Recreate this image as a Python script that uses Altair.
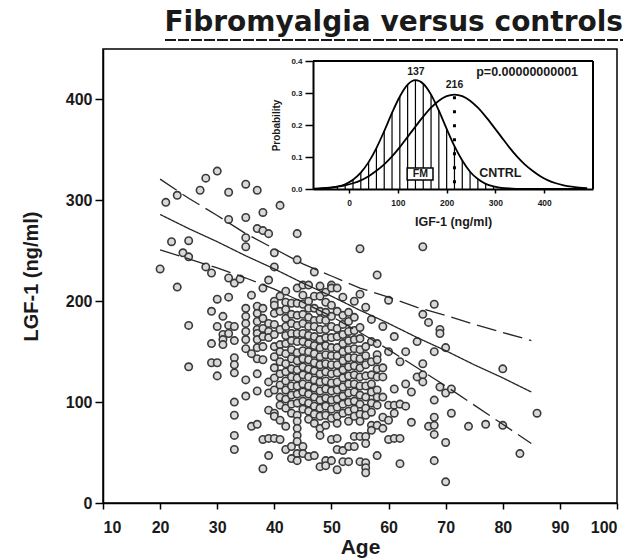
import altair as alt
import pandas as pd

TITLE = "Fibromyalgia versus controls"

# ---- main scatter: age columns and the LGF-1 values read in each column ----
col_age = [20, 21, 22, 23, 24, 25, 27, 28, 29, 30, 31, 32, 33, 34, 35, 36, 37, 38, 39, 40,
           41, 42, 43, 44, 45, 46, 47, 48, 49, 50, 51, 52, 53, 54, 55, 56, 57, 58, 59, 60,
           61, 62, 63, 64, 65, 66, 67, 68, 69, 70, 71, 74, 77, 80, 83, 86]
col_lgf = [
    [232],
    [298],
    [259],
    [305, 214],
    [248],
    [260, 244, 176, 135],
    [310],
    [322, 234],
    [228, 190, 158, 139],
    [329, 202, 175, 139, 126],
    [185, 167, 162, 157],
    [308, 281, 223, 204, 176, 168],
    [218, 175, 161, 144, 137, 129, 100, 87, 67, 53],
    [222],
    [316, 283, 263, 254, 193, 185, 178, 170, 162, 153, 122, 106],
    [206, 148, 76],
    [310, 272, 195, 188, 180, 172, 168, 162, 154, 143, 128, 111, 78],
    [288, 270, 213, 193, 183, 173, 165, 155, 142, 63, 34],
    [267, 221, 178, 170, 164, 120, 109, 92, 64, 47],
    [248, 234, 200, 196, 188, 177, 167, 155, 145, 134, 124, 112, 89, 86, 64],
    [295, 205, 190, 172, 157, 150, 140, 128, 117, 105, 97, 82, 63],
    [210, 199, 192, 183, 175, 166, 158, 148, 138, 130, 121, 112, 103, 94, 76, 53],
    [198, 187, 178, 168, 161, 152, 143, 133, 125, 116, 107, 98, 89, 56, 44],
    [267, 241, 213, 198, 186, 176, 168, 160, 149, 141, 132, 124, 116, 108, 99, 87, 81, 74, 67, 61, 49, 42],
    [216, 206, 197, 187, 178, 168, 160, 151, 143, 135, 127, 118, 110, 101, 93, 56, 49],
    [216, 200, 193, 184, 175, 166, 158, 150, 142, 133, 125, 116, 108, 99, 91, 83, 46],
    [229, 205, 193, 181, 175, 165, 156, 148, 139, 131, 122, 114, 105, 96, 88, 79, 47],
    [215, 205, 190, 182, 172, 162, 154, 145, 137, 128, 120, 111, 102, 94, 86, 74, 67, 36],
    [209, 199, 189, 181, 172, 164, 156, 147, 138, 130, 121, 113, 104, 96, 87, 77, 42, 37],
    [216, 213, 196, 185, 175, 164, 154, 146, 137, 128, 119, 111, 102, 93, 84, 63, 42],
    [213, 190, 173, 165, 154, 146, 137, 129, 120, 112, 103, 95, 86, 79, 64, 53, 33],
    [204, 186, 177, 167, 158, 150, 141, 132, 124, 115, 106, 98, 89, 52, 41],
    [189, 180, 170, 161, 152, 144, 135, 126, 118, 109, 100, 91, 81, 56, 41],
    [200, 184, 171, 162, 153, 144, 136, 127, 118, 110, 101, 93, 86, 66, 56],
    [252, 207, 174, 163, 152, 143, 134, 125, 116, 107, 98, 88, 81, 66, 41],
    [194, 155, 146, 137, 126, 116, 105, 94, 87, 66, 59, 40, 35, 30],
    [182, 160, 140, 127, 118, 110, 99, 90, 77, 72],
    [226, 158, 147, 142, 133, 125, 112, 105, 97, 77, 47],
    [175, 134, 125, 105, 85, 74],
    [201, 150, 97, 82, 63],
    [165, 113, 97, 89, 64],
    [140, 98, 64, 39],
    [150, 118, 96],
    [110, 80],
    [160, 125],
    [254, 187, 138, 127, 120],
    [179, 76],
    [197, 150, 102, 85, 77, 68, 42],
    [172, 168, 115],
    [154, 109, 60, 21],
    [113, 89],
    [76],
    [78],
    [133, 77],
    [49],
    [89],
]

# ---- regression line and its two dashed limits ----
line_age = [20, 25, 30, 35, 40, 45, 50, 55, 60, 65, 70, 75, 80, 85]
fit_mid = [286, 272, 259, 245, 232, 218, 205, 191, 178, 164, 151, 137, 124, 110]
fit_hi = [321, 302, 285, 267, 252, 237, 225, 213, 204, 194, 186, 177, 169, 161]
fit_lo = [251, 242, 233, 223, 212, 199, 185, 169, 152, 134, 116, 97, 78, 59]

# ---- inset: IGF-1 distributions ----
igf_x = [-72, -56, -40, -24, -8, 8, 24, 40, 56, 72, 88, 104, 120, 136, 152, 168, 184, 200,
         216, 232, 248, 264, 280, 296, 312, 328, 344, 360, 376, 392, 408, 424, 440, 456, 472, 488]
fm_prob = [0.0005, 0.0013, 0.0032, 0.0072, 0.015, 0.029, 0.051, 0.084, 0.128, 0.181, 0.238,
           0.289, 0.326, 0.340, 0.329, 0.295, 0.245, 0.188, 0.134, 0.089, 0.054, 0.031, 0.016,
           0.008, 0.0036, 0.0015, 0.0006, 0.0002, 0.0001, 0, 0, 0, 0, 0, 0, 0]
cntrl_prob = [0.0014, 0.0025, 0.0043, 0.0072, 0.0116, 0.018, 0.027, 0.040, 0.057, 0.077, 0.102,
              0.131, 0.163, 0.195, 0.226, 0.254, 0.276, 0.290, 0.295, 0.290, 0.276, 0.254, 0.226,
              0.195, 0.163, 0.131, 0.102, 0.077, 0.057, 0.040, 0.027, 0.018, 0.0116, 0.0072,
              0.0043, 0.0025]

peak_x = [137, 216]
peak_y = [0.366, 0.325]
peak_txt = ["137", "216"]
cntrl_mean = [216]
cntrl_dot_top = [0.29]
note_x = [365, 310]
note_y = [0.366, 0.05]
note_txt = ["p=0.00000000001", "CNTRL"]
fm_box_x = [119, 172]
fm_box_y = [0.028, 0.066]
fm_label_x = [146]
fm_label_y = [0.047]
inset_x_domain = [-74, 500]
inset_y_domain = [0, 0.4]

assert len(col_age) == len(col_lgf)
scatter_df = pd.DataFrame([{"age": a, "lgf": v} for a, vs in zip(col_age, col_lgf) for v in vs])
n = len(line_age)
band_df = pd.DataFrame({
    "age": line_age * 3,
    "lgf": fit_mid + fit_hi + fit_lo,
    "band": ["fit"] * n + ["upper"] * n + ["lower"] * n,
})
m = len(igf_x)
curve_df = pd.DataFrame({"iv": igf_x * 2, "prob": fm_prob + cntrl_prob,
                         "group": ["FM"] * m + ["CNTRL"] * m})
hatch_df = pd.DataFrame({"iv": igf_x, "prob": fm_prob, "base": [0] * m})
dot_df = pd.DataFrame({"iv": cntrl_mean, "prob": cntrl_dot_top, "base": [0]})
peak_df = pd.DataFrame({"iv": peak_x, "prob": peak_y, "txt": peak_txt})
note_df = pd.DataFrame({"iv": note_x, "prob": note_y, "txt": note_txt})
box_df = pd.DataFrame({"x1": [fm_box_x[0]], "x2": [fm_box_x[1]],
                       "y1": [fm_box_y[0]], "y2": [fm_box_y[1]]})
fm_df = pd.DataFrame({"iv": fm_label_x, "prob": fm_label_y, "txt": ["FM"]})
frame_df = pd.DataFrame({"x1": [inset_x_domain[0], inset_x_domain[1]],
                         "x2": [inset_x_domain[1], inset_x_domain[1]],
                         "y1": [inset_y_domain[1], inset_y_domain[0]],
                         "y2": [inset_y_domain[1], inset_y_domain[1]]})
one = alt.Data(values=[{}])

W, H = 514, 454
FONT = "Liberation Sans"
INK = "#1a1a1a"

# ---- main panel scales/axes ----
mx_scale = alt.Scale(domain=[10, 100], nice=False, zero=False)
my_scale = alt.Scale(domain=[0, 450], nice=False, zero=False)
mx_axis = alt.Axis(values=[10, 20, 30, 40, 50, 60, 70, 80, 90, 100], title="Age",
                   labelFont=FONT, labelFontSize=16, labelFontWeight="bold", labelPadding=10,
                   tickSize=6, titleFont=FONT, titleFontSize=21, titleFontWeight="bold",
                   titlePadding=1, grid=False, domainColor="black", tickColor="black",
                   labelColor=INK, titleColor=INK, domainWidth=1.5, tickWidth=1.5)
my_axis = alt.Axis(values=[0, 100, 200, 300, 400], title="LGF-1 (ng/ml)",
                   labelFont=FONT, labelFontSize=16, labelFontWeight="bold", labelPadding=3,
                   tickSize=8, titleFont=FONT, titleFontSize=20, titleFontWeight="bold",
                   titlePadding=24, grid=False, domainColor="black", tickColor="black",
                   labelColor=INK, titleColor=INK, domainWidth=1.5, tickWidth=1.5)

# ---- inset scales/axes ----
ix_scale = alt.Scale(domain=inset_x_domain, range=[210, 490], nice=False, zero=False)
iy_scale = alt.Scale(domain=inset_y_domain, range=[140, 12], nice=False, zero=False)
ix_axis = alt.Axis(orient="bottom", offset=-314, values=[0, 100, 200, 300, 400],
                   labelFont=FONT, labelFontSize=8.5, labelFontWeight="bold", labelPadding=5,
                   tickSize=4, title="IGF-1 (ng/ml)", titleFont=FONT, titleFontSize=12.5,
                   titleFontWeight="bold", titlePadding=9, grid=False, domainColor="black",
                   tickColor="black", labelColor=INK, titleColor=INK, domainWidth=2,
                   tickWidth=1.5)
iy_axis = alt.Axis(orient="left", offset=-210, values=[0, 0.1, 0.2, 0.3, 0.4], format=".1f",
                   labelFont=FONT, labelFontSize=8, labelFontWeight="bold", labelPadding=3,
                   tickSize=8, title="Probability", titleFont=FONT, titleFontSize=10,
                   titleFontWeight="bold", titlePadding=9, grid=False, domainColor="black",
                   tickColor="black", labelColor=INK, titleColor=INK, domainWidth=2,
                   tickWidth=1.5)


def mx(field, axis=None):
    return alt.X(field, type="quantitative", scale=mx_scale, axis=axis)


def my(field, axis=None):
    return alt.Y(field, type="quantitative", scale=my_scale, axis=axis)


def ix(field, axis=None):
    return alt.X(field, type="quantitative", scale=ix_scale, axis=axis)


def iy(field, axis=None):
    return alt.Y(field, type="quantitative", scale=iy_scale, axis=axis)


points = alt.Chart(scatter_df).mark_point(
    shape="circle", filled=True, fill="#d9d9d9", stroke="#3a3a3a", strokeWidth=1.6,
    size=55, opacity=1, fillOpacity=1
).encode(x=mx("age", mx_axis), y=my("lgf", my_axis))

bands = alt.Chart(band_df).mark_line(color="#262626", strokeWidth=1.3).encode(
    x=mx("age"), y=my("lgf"),
    detail="band:N",
    strokeDash=alt.StrokeDash("band:N", legend=None,
                              scale=alt.Scale(domain=["fit", "upper", "lower"],
                                              range=[[1, 0], [20, 7], [20, 7]])),
)

underline = alt.Chart(one).mark_rule(color=INK, strokeWidth=2, strokeDash=[11, 2]).encode(
    x=alt.value(62), x2=alt.value(520), y=alt.value(-9)
)

hatch = alt.Chart(hatch_df).mark_rule(color="black", strokeWidth=1.2).encode(
    x=ix("iv"), y=iy("prob"), y2="base:Q")
dots = alt.Chart(dot_df).mark_rule(color="black", strokeWidth=3, strokeDash=[3, 11]).encode(
    x=ix("iv"), y=iy("prob"), y2="base:Q")
curves = alt.Chart(curve_df).mark_line(color="black", strokeWidth=1.8,
                                       interpolate="monotone").encode(
    x=ix("iv", ix_axis), y=iy("prob", iy_axis), detail="group:N")
box = alt.Chart(box_df).mark_rect(fill="white", stroke="black", strokeWidth=1.5).encode(
    x=ix("x1"), x2="x2:Q", y=iy("y1"), y2="y2:Q")
fm_text = alt.Chart(fm_df).mark_text(font=FONT, fontSize=10.5, fontWeight="bold",
                                     color=INK, baseline="middle").encode(
    x=ix("iv"), y=iy("prob"), text="txt:N")
peaks = alt.Chart(peak_df).mark_text(font=FONT, fontSize=10.5, fontWeight="bold",
                                     color=INK, baseline="middle").encode(
    x=ix("iv"), y=iy("prob"), text="txt:N")
notes = alt.Chart(note_df).mark_text(font=FONT, fontSize=12.5, fontWeight="bold",
                                     color=INK, baseline="middle").encode(
    x=ix("iv"), y=iy("prob"), text="txt:N")
frame = alt.Chart(frame_df).mark_rule(color="black", strokeWidth=2).encode(
    x=ix("x1"), x2="x2:Q", y=iy("y1"), y2="y2:Q")

chart = alt.layer(
    points, bands, underline,
    hatch, dots, curves, box, fm_text, peaks, notes, frame,
).resolve_scale(
    x="independent", y="independent"
).properties(
    width=W, height=H,
    padding={"left": 103, "top": 49, "right": 16, "bottom": 57},
    autosize=alt.AutoSizeParams(type="none"),
    background="white",
    title=alt.TitleParams(TITLE, anchor="end", frame="group", offset=2, dx=6, fontSize=28,
                          font="DejaVu Sans", fontWeight="bold", color=INK),
).configure_view(
    stroke="black", strokeWidth=1.5
)

chart.save("out.html", embed_options={"renderer": "svg", "actions": False})
